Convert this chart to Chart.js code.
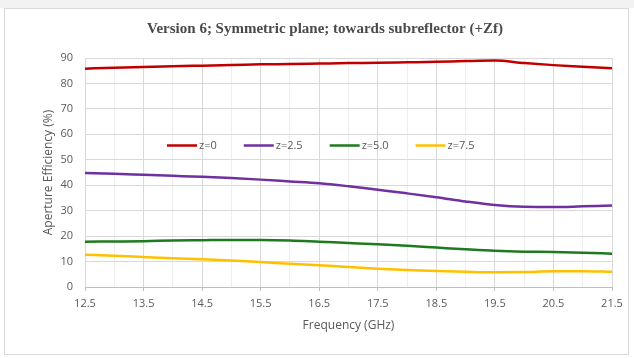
<!DOCTYPE html>
<html>
<head>
<meta charset="utf-8">
<title>Aperture Efficiency vs Frequency</title>
<script src="https://cdn.jsdelivr.net/npm/chart.js@4.4.1/dist/chart.umd.min.js"></script>
<style>
  html, body { margin: 0; padding: 0; background: #ffffff; }
  #wrap { width: 634px; height: 358px; position: relative; }
</style>
</head>
<body>
<div id="wrap"><canvas id="chart" width="634" height="358"></canvas></div>
<script>
// Frequency sweep (GHz)
const frequencies = [12.5, 13.0, 13.5, 14.0, 14.5, 15.0, 15.5, 16.0, 16.5, 17.0,
                     17.5, 18.0, 18.5, 19.0, 19.5, 20.0, 20.5, 21.0, 21.5];

// Aperture efficiency (%) for each feed offset z
const effZ0  = [85.8, 86.2, 86.5, 86.8, 87.0, 87.2, 87.5, 87.6, 87.8, 88.0,
                88.1, 88.3, 88.5, 88.8, 89.0, 88.0, 87.2, 86.6, 86.0];
const effZ25 = [44.8, 44.5, 44.1, 43.7, 43.3, 42.8, 42.2, 41.5, 40.8, 39.6,
                38.2, 36.8, 35.3, 33.6, 32.2, 31.5, 31.4, 31.7, 32.0];
const effZ50 = [17.8, 17.9, 18.0, 18.3, 18.4, 18.5, 18.5, 18.3, 17.8, 17.3,
                16.8, 16.2, 15.5, 14.8, 14.2, 13.9, 13.8, 13.5, 13.1];
const effZ75 = [12.7, 12.3, 11.8, 11.3, 10.9, 10.4, 9.8, 9.1, 8.5, 7.9,
                7.2, 6.7, 6.3, 6.0, 5.8, 5.9, 6.2, 6.2, 6.0];

const seriesLabels = ['z=0', 'z=2.5', 'z=5.0', 'z=7.5'];
const seriesColors = ['#C00000', '#7030A0', '#1E7A1E', '#FFC000'];
const seriesValues = [effZ0, effZ25, effZ50, effZ75];

// Axis ticks
const xTickLabels = ['12.5', '13.5', '14.5', '15.5', '16.5', '17.5', '18.5', '19.5', '20.5', '21.5'];
const yTickLabels = [0, 10, 20, 30, 40, 50, 60, 70, 80, 90];

const TEXT_GREY = '#595959';
const MAJOR_GRID = '#d9d9d9';
const MINOR_GRID = '#eeeeee';

const isMajorX = v => xTickLabels.includes(Number(v).toFixed(1));
const isMajorY = v => yTickLabels.includes(Math.round(v * 100) / 100);

const datasets = seriesLabels.map((label, i) => ({
  label,
  data: frequencies.map((f, k) => ({ x: f, y: seriesValues[i][k] })),
  borderColor: seriesColors[i],
  backgroundColor: seriesColors[i],
  borderWidth: 2.5,
  pointRadius: 0,
  pointHoverRadius: 0,
  cubicInterpolationMode: 'monotone',
  fill: false
}));

// White card with a thin grey frame behind the chart
const framePlugin = {
  id: 'frame',
  beforeDraw(chart) {
    const ctx = chart.ctx;
    ctx.save();
    ctx.fillStyle = '#ffffff';
    ctx.fillRect(0, 0, chart.width, chart.height);
    ctx.fillStyle = '#f2f2f2';
    ctx.fillRect(0, 0, chart.width, 8);
    ctx.strokeStyle = '#d9d9d9';
    ctx.lineWidth = 1;
    ctx.strokeRect(4.5, 8.5, 624, 346);
    ctx.restore();
  }
};

// Single-row legend drawn inside the plot area, from the dataset labels/colours
const inlineLegendPlugin = {
  id: 'inlineLegend',
  afterDatasetsDraw(chart, args, opts) {
    const ctx = chart.ctx;
    const area = chart.chartArea;
    const yScale = chart.scales.y;
    ctx.save();
    ctx.font = '11px "Open Sans"';
    ctx.textBaseline = 'middle';
    ctx.textAlign = 'left';
    let x = area.left + opts.offsetX;
    const y = Math.round(yScale.getPixelForValue(opts.atValue)) + 0.5;
    chart.data.datasets.forEach(ds => {
      ctx.strokeStyle = ds.borderColor;
      ctx.lineWidth = ds.borderWidth;
      ctx.beginPath();
      ctx.moveTo(x, y);
      ctx.lineTo(x + opts.lineLength, y);
      ctx.stroke();
      const tx = x + opts.lineLength + opts.textGap;
      ctx.fillStyle = TEXT_GREY;
      ctx.fillText(ds.label, tx, y);
      x = tx + ctx.measureText(ds.label).width + opts.itemGap;
    });
    ctx.restore();
  }
};

new Chart(document.getElementById('chart'), {
  type: 'line',
  data: { datasets },
  plugins: [framePlugin, inlineLegendPlugin],
  options: {
    responsive: false,
    animation: false,
    events: [],
    layout: { padding: { left: 38, right: 22, top: 0, bottom: 10 } },
    plugins: {
      title: {
        display: true,
        text: 'Version 6; Symmetric plane; towards subreflector (+Zf)',
        font: { family: 'Liberation Serif', size: 15, weight: 'bold' },
        color: '#4a4a4a',
        padding: { top: 20, bottom: 20 }
      },
      legend: { display: false },
      inlineLegend: { offsetX: 82, atValue: 55.8, lineLength: 30, textGap: 2, itemGap: 27 },
      tooltip: { enabled: false }
    },
    scales: {
      x: {
        type: 'linear',
        min: 12.5,
        max: 21.5,
        afterFit(scale) { scale.height = 61; },
        afterBuildTicks(scale) {
          scale.ticks = frequencies.map(v => ({ value: v }));
        },
        ticks: {
          autoSkip: false,
          maxRotation: 0,
          padding: 6,
          color: TEXT_GREY,
          font: { family: 'Open Sans', size: 11 },
          callback: v => (isMajorX(v) ? Number(v).toFixed(1) : '')
        },
        grid: {
          drawTicks: true,
          tickLength: 4,
          color: c => (c.tick && isMajorX(c.tick.value) ? MAJOR_GRID : MINOR_GRID),
          tickColor: c => (c.tick && isMajorX(c.tick.value) ? '#bfbfbf' : 'rgba(0,0,0,0)')
        },
        border: { display: true, color: '#bfbfbf', width: 1 },
        title: {
          display: true,
          text: 'Frequency (GHz)',
          color: TEXT_GREY,
          font: { family: 'Open Sans', size: 12 },
          padding: { top: 0, bottom: 15 }
        }
      },
      y: {
        type: 'linear',
        min: 0,
        max: 90,
        afterFit(scale) { scale.width = 47; },
        ticks: {
          stepSize: 5,
          padding: 12,
          color: TEXT_GREY,
          font: { family: 'Open Sans', size: 11 },
          callback: v => (isMajorY(v) ? String(v) : '')
        },
        grid: {
          drawTicks: false,
          color: c => (c.tick && isMajorY(c.tick.value) ? MAJOR_GRID : MINOR_GRID)
        },
        border: { display: false },
        title: {
          display: true,
          text: 'Aperture Efficiency (%)',
          color: TEXT_GREY,
          font: { family: 'Open Sans', size: 12 },
          padding: { top: 3, bottom: 0 }
        }
      }
    }
  }
});
</script>
</body>
</html>
